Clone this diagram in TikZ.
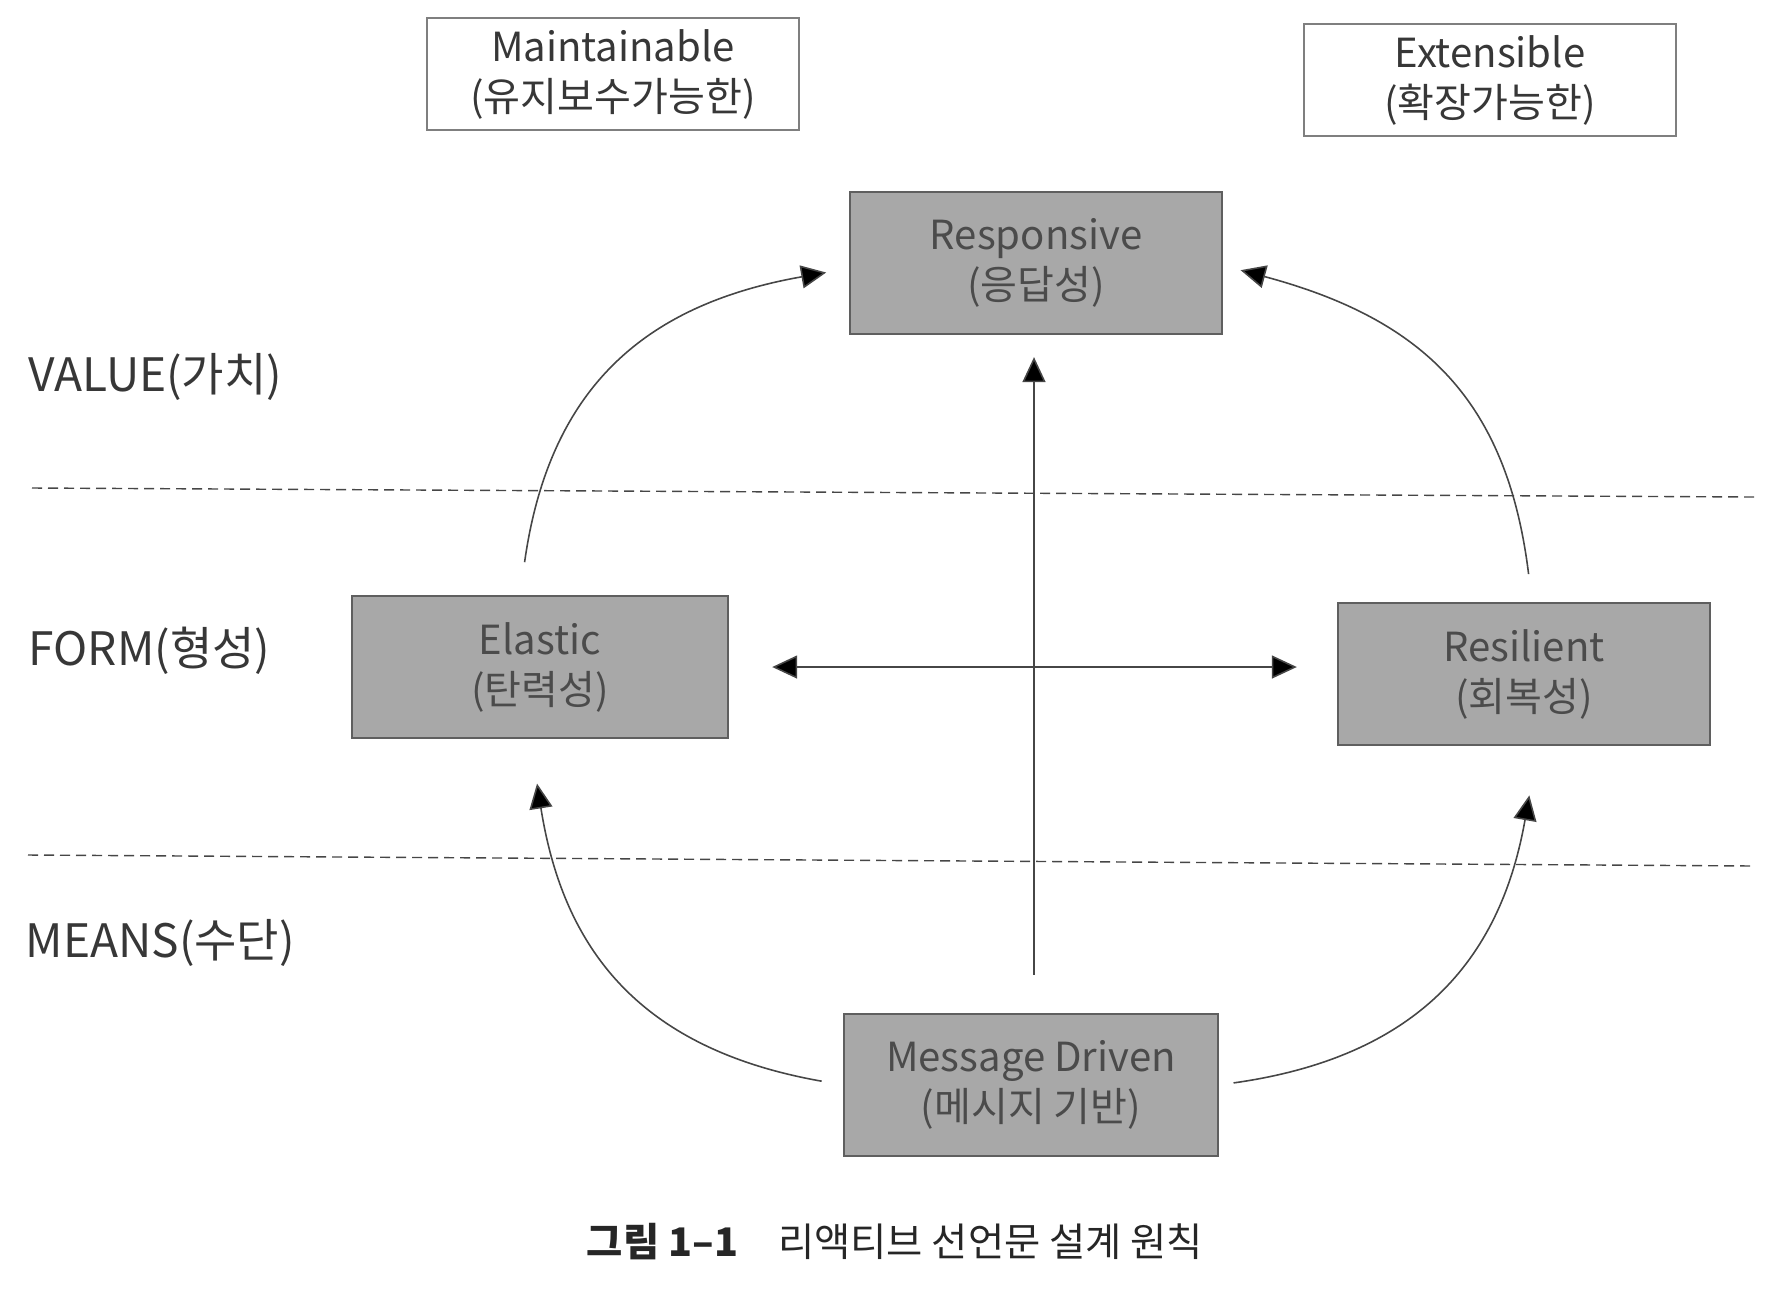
\documentclass[tikz,border=0pt]{standalone}
\usepackage{fontspec}
\setmainfont{Noto Sans CJK KR}
\usepackage{tikz}
\usetikzlibrary{arrows.meta}
\definecolor{boxfill}{RGB}{168,168,168}
\definecolor{boxline}{RGB}{95,95,95}
\definecolor{boxtext}{RGB}{75,75,75}
\definecolor{inktext}{RGB}{55,55,55}
\definecolor{arrowink}{RGB}{70,70,70}
\tikzset{gray node/.style={rectangle,fill=boxfill,draw=boxline,line width=0.6pt,text=boxtext,
    minimum width=3.72cm,minimum height=1.42cm,align=center,inner sep=0pt,
    font=\fontsize{11.4pt}{14.2pt}\selectfont},
  white node/.style={gray node,fill=white,draw=boxline!80,text=inktext,minimum height=1.12cm},
  layer label/.style={anchor=west,inner sep=0pt,text=inktext,font=\fontsize{13.1pt}{16pt}\selectfont},
  divider/.style={-,draw=arrowink,line width=0.4pt,dash pattern=on 2.85pt off 1.7pt},
  flow/.style={draw=arrowink,line width=0.45pt},
  bent/.style={->,looseness=1.15},}

\begin{document}
\begin{tikzpicture}[>={Triangle[length=0.25cm,width=0.23cm]}, x=0.01cm, y=-0.01cm]
  \useasboundingbox (0,0) rectangle (1770,1290);

  % top notes
  \node[white node] (maint) at (613,74) {Maintainable\\(유지보수가능한)};
  \node[white node] (ext) at (1490,80) {Extensible\\(확장가능한)};

  % the four principles
  \node[gray node] (resp) at (1036,263) {Responsive\\(응답성)};
  \node[gray node, minimum width=3.76cm] (elas) at (540,667) {Elastic\\(탄력성)};
  \node[gray node] (resil) at (1524,674) {Resilient\\(회복성)};
  \node[gray node, minimum width=3.73cm] (msg) at (1031,1085) {Message Driven\\(메시지 기반)};

  % layers
  \node[layer label] (value) at (28,377) {VALUE(가치)};
  \node[layer label] (form) at (28,651) {FORM(형성)};
  \node[layer label] (means) at (25,943) {MEANS(수단)};
  \draw[divider] (32,488) -- (1755,497);
  \draw[divider] (28,855) -- (1755,866);

  \path[flow]
    ([xshift=0.03cm]msg.north) edge [->, shorten <=0.38cm, shorten >=0.22cm] ([xshift=-0.02cm]resp.south)
    (elas.east) edge [<->, shorten <=0.43cm, shorten >=0.40cm] (elas.east -| resil.west)
    ([xshift=-0.2cm]elas.north) edge [bent, out=82, in=190, shorten <=0.33cm, shorten >=0.23cm] ([yshift=-0.055cm]resp.west)
    ([xshift=0.08cm]resil.north) edge [bent, out=97, in=-15, shorten <=0.28cm, shorten >=0.18cm] ([yshift=-0.025cm]resp.east)
    (msg.west) edge [bent, out=170, in=-81, shorten <=0.22cm, shorten >=0.45cm] ([xshift=-0.1cm]elas.south)
    (msg.east) edge [bent, out=8, in=260, shorten <=0.15cm, shorten >=0.5cm] ([xshift=0.14cm]resil.south);

  % caption
  \node[inner sep=0pt, text=black!85, font=\fontsize{11.2pt}{13pt}\selectfont] (cap) at (895,1242)
    {{\bfseries 그림 1–1}\hspace{0.4cm}리액티브 선언문 설계 원칙};
\end{tikzpicture}
\end{document}
